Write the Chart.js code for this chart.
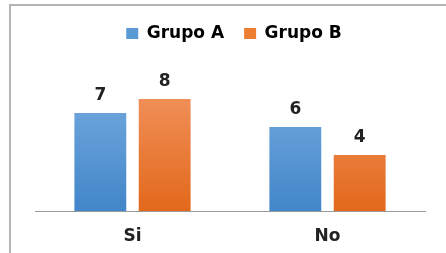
<!DOCTYPE html>
<html>
<head>
<meta charset="utf-8">
<script src="https://cdn.jsdelivr.net/npm/chart.js@4"></script>
<style>
  html, body { margin: 0; padding: 0; background: #fff; overflow: hidden; }
  #wrap { position: relative; width: 446px; height: 253px; overflow: hidden; }
  #frame { position: absolute; left: 9px; top: 4px; width: 460px; height: 290px; border: 2px solid #b4b4b4; box-sizing: border-box; }
  #chart { position: absolute; left: 0; top: 0; }
</style>
</head>
<body>
<div id="wrap">
  <div id="frame"></div>
  <canvas id="chart" width="446" height="280"></canvas>
</div>
<script>
const categories = ['Si', 'No'];
const grupoA = [7, 6];
const grupoB = [8, 4];
const seriesNames = ['Grupo A', 'Grupo B'];

const FONT = 'DejaVu Sans';

function barGradient(ctx, top, bottom) {
  const chart = ctx.chart;
  const area = chart.chartArea;
  if (!area) return top;
  const g = chart.ctx.createLinearGradient(0, area.top + 15, 0, area.bottom);
  g.addColorStop(0, top);
  g.addColorStop(1, bottom);
  return g;
}

// value labels above each bar
const valueLabels = {
  id: 'valueLabels',
  afterDatasetsDraw(chart) {
    const ctx = chart.ctx;
    ctx.save();
    ctx.font = 'bold 17px ' + FONT;
    ctx.fillStyle = '#222';
    ctx.textAlign = 'center';
    ctx.textBaseline = 'alphabetic';
    chart.data.datasets.forEach((ds, i) => {
      chart.getDatasetMeta(i).data.forEach((bar, j) => {
        ctx.fillText(ds.data[j], bar.x, bar.y - 13);
      });
    });
    ctx.restore();
  }
};

// extra room under the legend, and nudge it right a little
const legendSpace = {
  id: 'legendSpace',
  beforeInit(chart) {
    const fit = chart.legend.fit;
    chart.legend.fit = function () {
      fit.bind(chart.legend)();
      this.height += 33;
    };
  },
  afterLayout(chart) {
    chart.legend.left += 4;
    chart.legend.right += 4;
  }
};

new Chart(document.getElementById('chart'), {
  type: 'bar',
  data: {
    labels: categories,
    datasets: [
      {
        label: seriesNames[0], data: grupoA,
        backgroundColor: c => barGradient(c, '#6fa6dd', '#4286c9'),
        borderWidth: 0
      },
      {
        label: seriesNames[1], data: grupoB,
        backgroundColor: c => barGradient(c, '#f08e56', '#e2681b'),
        borderWidth: 0
      }
    ]
  },
  options: {
    responsive: false,
    animation: false,
    categoryPercentage: 0.66,
    barPercentage: 0.806,
    layout: { padding: { left: 35, right: 21, top: 5, bottom: 26.6 } },
    plugins: {
      legend: {
        position: 'top',
        labels: {
          boxWidth: 12, boxHeight: 11, padding: 20,
          color: '#222',
          font: { family: FONT, size: 17, weight: 'bold' },
          generateLabels: ch => ch.data.datasets.map((ds, i) => ({
            text: ds.label,
            fillStyle: i === 0 ? '#5b9bd5' : '#ed7d31',
            strokeStyle: 'transparent', lineWidth: 0,
            datasetIndex: i
          }))
        }
      },
      tooltip: { enabled: false }
    },
    scales: {
      x: {
        grid: { display: false },
        border: { display: true, color: '#9a9a9a', width: 1 },
        ticks: { color: '#222', padding: 7, font: { family: FONT, size: 17, weight: 'bold' } }
      },
      y: { display: false, min: 0, max: 9 }
    }
  },
  plugins: [valueLabels, legendSpace]
});
</script>
</body>
</html>
